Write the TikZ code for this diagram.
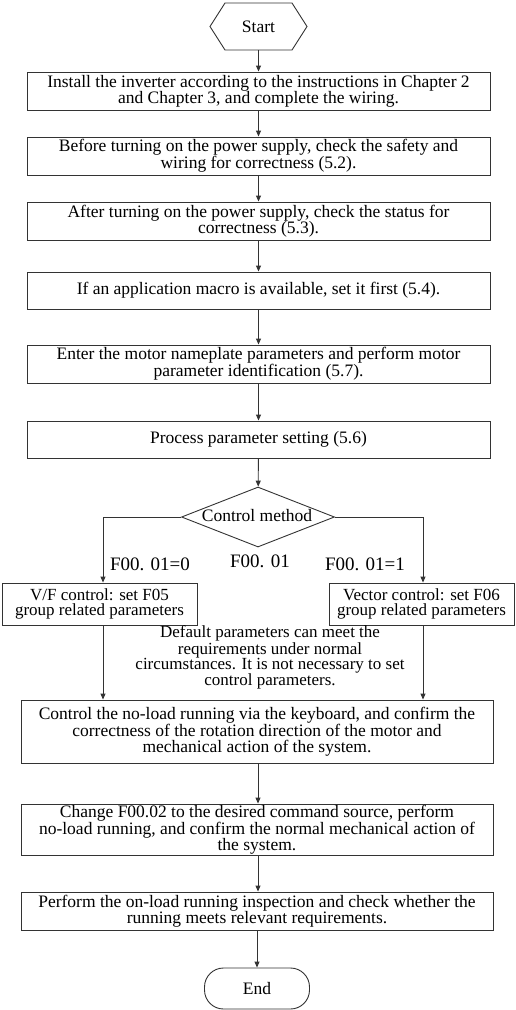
\documentclass[tikz,border=0pt]{standalone}
\usepackage{fontspec}
\setmainfont{Liberation Serif}
\usetikzlibrary{shapes.geometric,arrows.meta}
\begin{document}
\begin{tikzpicture}[x=1pt,y=-1pt,
  font=\fontsize{17.5}{16}\selectfont,
  every node/.style={inner sep=0pt},
  line/.style={draw=black!80,line width=0.9pt},
  box/.style={line,minimum width=463pt,align=center},
  conn/.style={line,-{Triangle[length=6pt,width=5pt]}},
  lbl/.style={font=\fontsize{19}{20}\selectfont}]
\useasboundingbox (0,0) rectangle (515,1010);
\draw[line] (210,26.5) -- (225,3) -- (292,3) -- (307,26.5) -- (292,50) -- (225,50) -- cycle;
\node[minimum width=97pt,minimum height=47pt] (start) at (258.5,26.5) {Start};
\node[box,minimum height=38pt] (b1) at (258.5,91) {Install the inverter according to the instructions in Chapter 2\\and Chapter 3, and complete the wiring.};
\node[box,minimum height=38pt] (b2) at (258.5,156) {Before turning on the power supply, check the safety and\\wiring for correctness (5.2).};
\node[box,minimum height=38pt] (b3) at (258.5,221) {After turning on the power supply, check the status for\\correctness (5.3).};
\node[box,minimum height=37pt] (b4) at (258.5,290.5) {If an application macro is available, set it first (5.4).};
\node[box,minimum height=38pt] (b5) at (258.5,364) {Enter the motor nameplate parameters and perform motor\\parameter identification (5.7).};
\node[box,minimum height=37pt] (b6) at (258.5,439.5) {Process parameter setting (5.6)};
\node[line,diamond,minimum width=153pt,minimum height=60pt] (dia) at (258,517) {};
\node (diat) at (257,516) {Control method};
\node[box,minimum width=195pt,minimum height=42pt,font=\fontsize{17}{15}\selectfont] (vf) at (99.5,604) {V/F control: set F05\\group related parameters};
\node[box,minimum width=185pt,minimum height=42pt,font=\fontsize{17}{15}\selectfont] (vc) at (421.5,604) {Vector control: set F06\\group related parameters};
\node[lbl] (l0) at (150,564) {F00. 01=0};
\node[lbl] (l1) at (260,561) {F00. 01};
\node[lbl] (l2) at (365,564) {F00. 01=1};
\node[align=center,font=\fontsize{17}{15}\selectfont] (note) at (270,657.5) {Default parameters can meet the\\requirements under normal\\circumstances. It is not necessary to set\\control parameters.};
\node[box,minimum width=472pt,minimum height=63pt] (b9) at (257,731.5) {Control the no-load running via the keyboard, and confirm the\\correctness of the rotation direction of the motor and\\mechanical action of the system.};
\node[box,minimum width=472pt,minimum height=51pt] (b10) at (257,829.5) {Change F00.02 to the desired command source, perform\\no-load running, and confirm the normal mechanical action of\\the system.};
\node[box,minimum width=472pt,minimum height=38pt] (b11) at (257,911) {Perform the on-load running inspection and check whether the\\running meets relevant requirements.};
\node[line,rounded corners=19pt,minimum width=105pt,minimum height=41pt] (end) at (257,988.5) {End};
\draw[conn] (start) -- (b1);
\draw[conn] (b1) -- (b2);
\draw[conn] (b2) -- (b3);
\draw[conn] (b3) -- (b4);
\draw[conn] (b4) -- (b5);
\draw[conn] (b5) -- (b6);
\draw[conn] (b6) -- (dia);
\draw[conn] (dia.west) -| ([xshift=3.5pt]vf.north);
\draw[conn] (dia.east) -| ([xshift=1.5pt]vc.north);
\draw[conn] ([xshift=3.5pt]vf.south) -- ([xshift=3.5pt]vf.south |- b9.north);
\draw[conn] ([xshift=1.5pt]vc.south) -- ([xshift=1.5pt]vc.south |- b9.north);
\draw[conn] ([xshift=1pt]b9.south) -- ([xshift=1pt]b10.north);
\draw[conn] ([xshift=1pt]b10.south) -- ([xshift=1pt]b11.north);
\draw[conn] (b11) -- (end);
\end{tikzpicture}
\end{document}
